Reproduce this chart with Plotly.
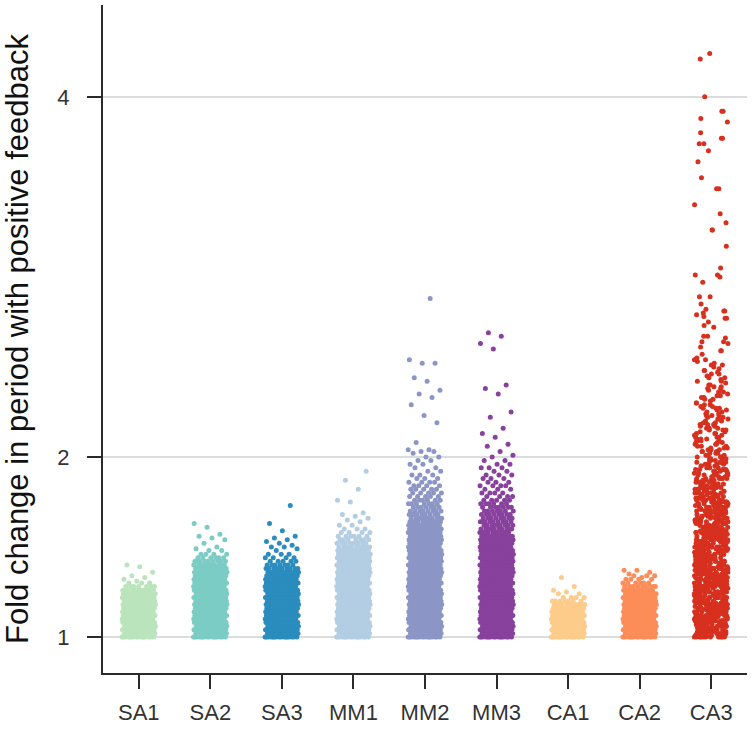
import plotly.graph_objects as go

categories = ["SA1", "SA2", "SA3", "MM1", "MM2", "MM3", "CA1", "CA2", "CA3"]
colors = ["#bae4bc", "#7bccc4", "#2b8cbe", "#b3cde3", "#8c96c6", "#88419d",
          "#fdcc8a", "#fc8d59", "#d7301f"]

# Each group: dense levels with the number of points read at each level,
# plus the individually visible sparse points.
sa1_levels = [1.00, 1.02, 1.04, 1.06, 1.08, 1.10, 1.12, 1.14, 1.16, 1.18, 1.20, 1.22, 1.24, 1.26, 1.28, 1.30]
sa1_counts = [16, 16, 16, 16, 16, 16, 16, 16, 16, 16, 15, 14, 13, 12, 7, 3]
sa1_sparse = [1.31, 1.32, 1.33, 1.34, 1.36, 1.39, 1.40]

sa2_levels = [1.00, 1.02, 1.04, 1.06, 1.08, 1.10, 1.12, 1.14, 1.16, 1.18, 1.20, 1.22, 1.24,
              1.26, 1.28, 1.30, 1.32, 1.34, 1.36, 1.38, 1.40, 1.42, 1.44, 1.46, 1.48]
sa2_counts = [16, 16, 16, 16, 16, 16, 16, 16, 16, 16, 16, 16, 16,
              16, 16, 16, 16, 16, 15, 13, 11, 9, 6, 4, 2]
sa2_sparse = [1.49, 1.50, 1.52, 1.54, 1.55, 1.56, 1.57, 1.61, 1.63]

sa3_levels = [1.00, 1.02, 1.04, 1.06, 1.08, 1.10, 1.12, 1.14, 1.16, 1.18, 1.20, 1.22, 1.24,
              1.26, 1.28, 1.30, 1.32, 1.34, 1.36, 1.38, 1.40, 1.42, 1.44, 1.46]
sa3_counts = [16, 16, 16, 16, 16, 16, 16, 16, 16, 16, 16, 16, 16,
              16, 16, 16, 16, 15, 13, 10, 7, 5, 4, 3]
sa3_sparse = [1.48, 1.49, 1.50, 1.50, 1.51, 1.52, 1.53, 1.54, 1.55, 1.56, 1.59, 1.63, 1.73]

mm1_levels = [1.00, 1.02, 1.04, 1.06, 1.08, 1.10, 1.12, 1.14, 1.16, 1.18, 1.20, 1.22, 1.24,
              1.26, 1.28, 1.30, 1.32, 1.34, 1.36, 1.38, 1.40, 1.42, 1.44, 1.46, 1.48,
              1.50, 1.52, 1.54, 1.56, 1.58, 1.60, 1.62]
mm1_counts = [16, 16, 16, 16, 16, 16, 16, 16, 16, 16, 16, 16, 16,
              16, 16, 16, 16, 16, 16, 16, 16, 16, 16, 15, 13,
              11, 9, 7, 6, 4, 3, 2]
mm1_sparse = [1.64, 1.65, 1.66, 1.67, 1.68, 1.69, 1.75, 1.76, 1.82, 1.87, 1.92]

mm2_levels = [1.00, 1.02, 1.04, 1.06, 1.08, 1.10, 1.12, 1.14, 1.16, 1.18, 1.20, 1.22, 1.24,
              1.26, 1.28, 1.30, 1.32, 1.34, 1.36, 1.38, 1.40, 1.42, 1.44, 1.46, 1.48,
              1.50, 1.52, 1.54, 1.56, 1.58, 1.60, 1.62, 1.64, 1.66, 1.68, 1.70, 1.72,
              1.74, 1.76, 1.78, 1.80, 1.82, 1.84, 1.86, 1.88, 1.90, 1.92, 1.94, 1.96, 1.98]
mm2_counts = [16, 16, 16, 16, 16, 16, 16, 16, 16, 16, 16, 16, 16,
              16, 16, 16, 16, 16, 16, 16, 16, 16, 16, 16, 16,
              16, 16, 16, 16, 15, 15, 14, 12, 11, 9, 8, 7,
              7, 6, 5, 5, 5, 4, 4, 3, 3, 2, 2, 2, 2]
mm2_sparse = [2.00, 2.00, 2.02, 2.03, 2.03, 2.04, 2.04, 2.08, 2.19, 2.23, 2.29, 2.33,
              2.35, 2.37, 2.42, 2.44, 2.52, 2.52, 2.54, 2.88]

mm3_levels = [1.00, 1.02, 1.04, 1.06, 1.08, 1.10, 1.12, 1.14, 1.16, 1.18, 1.20, 1.22, 1.24,
              1.26, 1.28, 1.30, 1.32, 1.34, 1.36, 1.38, 1.40, 1.42, 1.44, 1.46, 1.48,
              1.50, 1.52, 1.54, 1.56, 1.58, 1.60, 1.62, 1.64, 1.66, 1.68, 1.70, 1.72,
              1.74, 1.76, 1.78, 1.80, 1.82, 1.84, 1.86, 1.88, 1.90, 1.92, 1.94, 1.96, 1.98]
mm3_counts = [16, 16, 16, 16, 16, 16, 16, 16, 16, 16, 16, 16, 16,
              16, 16, 16, 16, 16, 16, 16, 16, 16, 16, 16, 16,
              16, 16, 16, 14, 11, 10, 9, 9, 8, 8, 7, 7,
              6, 5, 4, 4, 3, 4, 3, 3, 3, 2, 3, 2, 2]
mm3_sparse = [2.00, 2.01, 2.03, 2.06, 2.07, 2.11, 2.13, 2.16, 2.22, 2.25, 2.35, 2.38,
              2.40, 2.60, 2.63, 2.67, 2.69]

ca1_levels = [1.00, 1.02, 1.04, 1.06, 1.08, 1.10, 1.12, 1.14, 1.16, 1.18, 1.20, 1.22, 1.24]
ca1_counts = [16, 16, 16, 16, 16, 16, 16, 16, 16, 12, 7, 4, 2]
ca1_sparse = [1.25, 1.26, 1.28, 1.33]

ca2_levels = [1.00, 1.02, 1.04, 1.06, 1.08, 1.10, 1.12, 1.14, 1.16, 1.18, 1.20, 1.22,
              1.24, 1.26, 1.28, 1.30, 1.32, 1.34]
ca2_counts = [16, 16, 16, 16, 16, 16, 16, 16, 16, 16, 16, 16,
              16, 12, 9, 6, 4, 3]
ca2_sparse = [1.33, 1.35, 1.36, 1.37, 1.37]

ca3_levels = [1.00, 1.01, 1.02, 1.03, 1.04, 1.05, 1.06, 1.07, 1.08, 1.09,
              1.10, 1.11, 1.12, 1.13, 1.14, 1.15, 1.16, 1.17, 1.18, 1.19,
              1.20, 1.21, 1.22, 1.23, 1.24, 1.25, 1.26, 1.27, 1.28, 1.29,
              1.30, 1.31, 1.32, 1.33, 1.34, 1.35, 1.36, 1.37, 1.38, 1.39,
              1.40, 1.41, 1.42, 1.43, 1.44, 1.45, 1.46, 1.47, 1.48, 1.49,
              1.50, 1.51, 1.52, 1.53, 1.54, 1.55, 1.56, 1.57, 1.58, 1.59,
              1.60, 1.61, 1.62, 1.63, 1.64, 1.65, 1.66, 1.67, 1.68, 1.69,
              1.70, 1.71, 1.72, 1.73, 1.74, 1.75, 1.76, 1.77, 1.78, 1.79,
              1.80, 1.81, 1.82, 1.83, 1.84, 1.85, 1.86, 1.87, 1.88, 1.89,
              1.90, 1.91, 1.92, 1.93, 1.94, 1.95, 1.96, 1.97, 1.98, 1.99,
              2.00, 2.01, 2.02, 2.03, 2.04, 2.05, 2.06, 2.07, 2.08, 2.09,
              2.10, 2.11, 2.12, 2.13, 2.14, 2.15, 2.16, 2.17, 2.18, 2.19,
              2.20, 2.21, 2.22, 2.23, 2.24, 2.25, 2.26, 2.27, 2.28, 2.29,
              2.30, 2.31, 2.32, 2.33, 2.34, 2.35, 2.36, 2.37, 2.38, 2.39,
              2.40, 2.41, 2.42, 2.43, 2.44, 2.45, 2.46, 2.47, 2.48, 2.49,
              2.50, 2.51, 2.52, 2.53]
ca3_counts = [11, 10, 11, 10, 11, 10, 11, 10, 11, 10,
              11, 10, 11, 10, 11, 10, 11, 10, 11, 10,
              11, 10, 11, 10, 11, 10, 11, 10, 11, 10,
              11, 10, 11, 10, 10, 10, 11, 10, 10, 10,
              9, 8, 9, 8, 9, 8, 9, 8, 9, 8,
              9, 8, 9, 8, 9, 8, 9, 8, 9, 8,
              8, 7, 8, 7, 8, 7, 8, 7, 8, 7,
              8, 7, 7, 7, 8, 7, 7, 7, 7, 7,
              6, 5, 6, 5, 6, 5, 6, 5, 6, 5,
              5, 5, 4, 5, 4, 4, 5, 4, 4, 4,
              3, 3, 3, 3, 3, 3, 3, 3, 3, 3,
              3, 3, 2, 3, 2, 3, 3, 2, 3, 2,
              2, 3, 2, 3, 2, 2, 2, 3, 2, 2,
              2, 1, 2, 2, 2, 1, 2, 1, 2, 2,
              2, 1, 2, 1, 2, 1, 2, 1, 2, 1,
              1, 2, 1, 1]
ca3_sparse = [2.54, 2.54, 2.55, 2.57, 2.59, 2.59, 2.61, 2.63, 2.64, 2.64, 2.66, 2.67,
              2.67, 2.72, 2.73, 2.75, 2.77, 2.77, 2.78, 2.79, 2.80, 2.81, 2.81, 2.82,
              2.85, 2.89, 2.89, 2.97, 3.00, 3.01, 3.01, 3.05, 3.17, 3.26, 3.26, 3.30,
              3.35, 3.40, 3.49, 3.49, 3.55, 3.64, 3.70, 3.74, 3.74, 3.77, 3.77, 3.80,
              3.86, 3.88, 3.92, 3.92, 4.00, 4.21, 4.24]

y_ticks = [1, 2, 4]

groups = [
    (sa1_levels, sa1_counts, sa1_sparse),
    (sa2_levels, sa2_counts, sa2_sparse),
    (sa3_levels, sa3_counts, sa3_sparse),
    (mm1_levels, mm1_counts, mm1_sparse),
    (mm2_levels, mm2_counts, mm2_sparse),
    (mm3_levels, mm3_counts, mm3_sparse),
    (ca1_levels, ca1_counts, ca1_sparse),
    (ca2_levels, ca2_counts, ca2_sparse),
    (ca3_levels, ca3_counts, ca3_sparse),
]

GOLDEN = 0.6180339887498949
ALPHA = 0.41421356237309515
HALF_WIDTH = 0.235

fig = go.Figure()
for gi, (levels, counts, sparse) in enumerate(groups):
    ys = []
    for v, c in zip(levels, counts):
        ys.extend([v] * c)
    ys.extend(sparse)
    # deterministic, evenly spread horizontal jitter within the category band
    quad = 0.5 * ALPHA if gi == len(groups) - 1 else 0.0
    xs = [gi + ((k * GOLDEN + k * k * quad) % 1.0 - 0.5) * 2 * HALF_WIDTH
          for k in range(len(ys))]
    fig.add_trace(go.Scatter(
        x=xs, y=ys, mode="markers",
        marker=dict(size=5, color=colors[gi], line=dict(width=0)),
        name=categories[gi], showlegend=False, hoverinfo="y",
    ))

font_family = "Liberation Sans, Arial, sans-serif"
fig.update_layout(
    width=755, height=729,
    margin=dict(l=103, r=8, t=5, b=56),
    paper_bgcolor="white", plot_bgcolor="white",
    font=dict(family=font_family),
)
fig.update_xaxes(
    automargin=False,
    range=[-0.5, 8.5],
    tickvals=list(range(len(categories))), ticktext=categories,
    showgrid=False, zeroline=False,
    showline=True, linecolor="#2a2a2a", linewidth=2,
    ticks="outside", ticklen=14, tickwidth=2, tickcolor="#2a2a2a",
    tickfont=dict(size=22, color="#333333", family=font_family),
    ticklabelstandoff=5,
)
fig.update_yaxes(
    automargin=False,
    range=[0.8, 4.51],
    tickvals=y_ticks, ticktext=[str(t) for t in y_ticks],
    showgrid=True, gridcolor="#dcdcdc", gridwidth=2,
    zeroline=False,
    showline=True, linecolor="#2a2a2a", linewidth=2,
    ticks="outside", ticklen=14, tickwidth=2, tickcolor="#2a2a2a",
    tickfont=dict(size=22, color="#333333", family=font_family),
    ticklabelstandoff=13,
    title=dict(text="Fold change in period with positive feedback",
               font=dict(size=31, color="#111111", family=font_family),
               standoff=22),
)

# remove the page's default body margin so the figure sits at the window's corner
fig.write_html("out.html", config={"displayModeBar": False},
               post_script="document.body.style.margin='0';")
